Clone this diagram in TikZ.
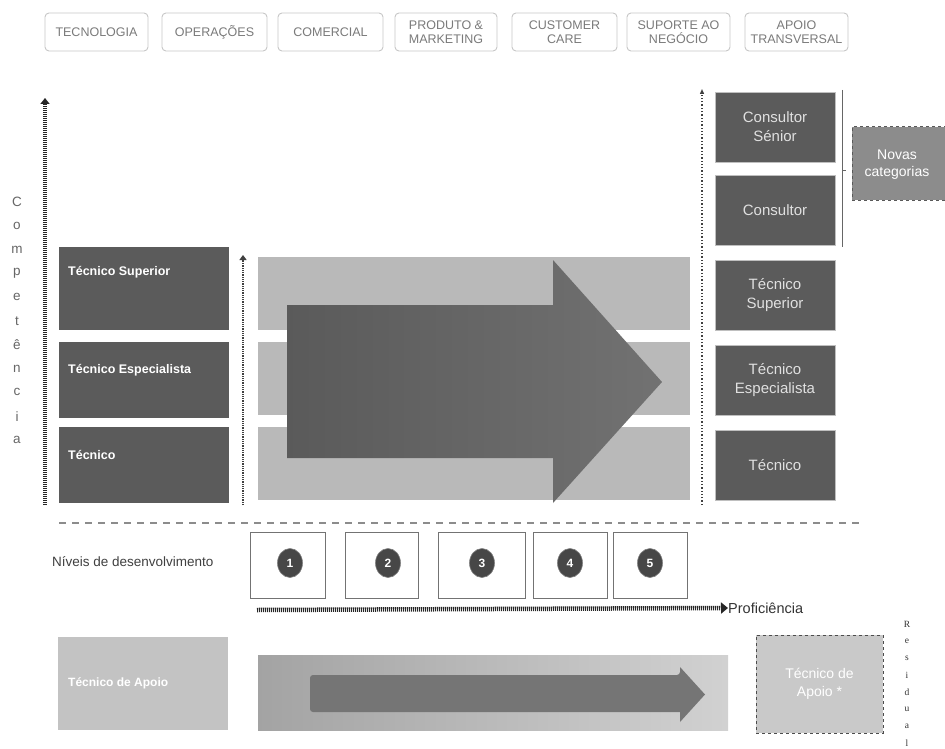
\documentclass[tikz,border=0pt]{standalone}
\usepackage{fontspec}
\setmainfont{Liberation Sans}
\newfontfamily\resfont{Liberation Serif}
\usetikzlibrary{arrows.meta,shapes.geometric}
\definecolor{darkbox}{HTML}{5B5B5B}
\definecolor{bandgray}{HTML}{B9B9B9}
\definecolor{arrowgray}{HTML}{626262}
\definecolor{lightbox}{HTML}{C3C3C3}
\definecolor{novas}{HTML}{8C8C8C}
\definecolor{toptext}{HTML}{7A7A7A}
\tikzset{
  topbox/.style={draw=black!22, line width=0.9pt, rounded corners=4pt, text=toptext,
    font=\fontsize{12.5}{14.5}\selectfont, align=center, inner sep=0pt, minimum height=38pt},
  leftbox/.style={fill=darkbox, draw=none, minimum width=170pt, inner sep=0pt},
  lefttext/.style={text=white, font=\fontsize{12.5}{15}\selectfont\bfseries, anchor=west, inner sep=0pt},
  band/.style={fill=bandgray, draw=none, minimum width=432pt, minimum height=73pt, inner sep=0pt},
  rightbox/.style={fill=darkbox, draw=black!25, line width=0.8pt, minimum width=120pt, minimum height=70pt,
    text=white!88!black, font=\fontsize{15}{19}\selectfont, align=center, inner sep=0pt},
  levelbox/.style={draw=black!55, line width=1pt, minimum height=66pt, inner sep=0pt},
  levelnum/.style={ellipse, fill=black!72, draw=black!50, line width=0.6pt, minimum width=25pt, minimum height=29pt,
    inner sep=0pt, text=white, font=\fontsize{12}{12}\selectfont\bfseries},
  hatchaxis/.style={draw=black!85, line width=3.5pt, dash pattern=on 1.2pt off 0.8pt,
    -{Triangle[length=6pt,width=9pt]}},
  thinaxis/.style={draw=black!75, line width=2.2pt, dash pattern=on 1pt off 0.8pt,
    -{Triangle[length=5pt,width=7pt]}},
  dotaxis/.style={draw=black!75, line width=1.3pt, dotted, -{Triangle[length=5pt,width=4pt]}},
  sepline/.style={draw=black!45, line width=1.3pt, dash pattern=on 7pt off 6pt},
  vletter/.style={text=black!60, font=\fontsize{13.5}{13.5}\selectfont, inner sep=0pt},
  rletter/.style={text=black!80, font=\resfont\fontsize{9.5}{9.5}\selectfont, inner sep=0pt},
}
\begin{document}
\begin{tikzpicture}[x=1pt,y=-1pt]
\useasboundingbox (0,0) rectangle (945,749);
\clip (0,0) rectangle (945,749);
\fill[white] (0,0) rectangle (945,749);

% top row
\node[topbox, minimum width=103pt] (tec) at (96.5,32) {TECNOLOGIA};
\node[topbox, minimum width=105pt] (ope) at (214.5,32) {OPERAÇÕES};
\node[topbox, minimum width=105pt] (com) at (330.5,32) {COMERCIAL};
\node[topbox, minimum width=102pt] (pro) at (446,32) {PRODUTO \&\\MARKETING};
\node[topbox, minimum width=105pt] (cus) at (564.5,32) {CUSTOMER\\CARE};
\node[topbox, minimum width=103pt] (sup) at (678.5,32) {SUPORTE AO\\NEGÓCIO};
\node[topbox, minimum width=103pt] (apo) at (796.5,32) {APOIO\\TRANSVERSAL};

% Competência axis
\coordinate (compB) at (45,505);
\coordinate (compT) at (45,98);
\draw[hatchaxis] (compB) -- (compT);
\foreach \l [count=\i from 0] in {C,o,m,p,e,t,ê,n,c,i,a}
  \node[vletter] (cl\i) at (17,{202+23.8*\i}) {\l};

% left boxes
\node[leftbox, minimum height=83pt] (lts) at (144,288.5) {};
\node[leftbox, minimum height=76pt] (lte) at (144,380) {};
\node[leftbox, minimum height=76pt] (lt) at (144,465) {};
\node[lefttext] (ltsT) at (68,272) {Técnico Superior};
\node[lefttext] (lteT) at (68,370) {Técnico Especialista};
\node[lefttext] (ltT) at (68,455) {Técnico};

% second axis
\coordinate (a2b) at (243,505);
\coordinate (a2t) at (243,255);
\draw[thinaxis] (a2b) -- (a2t);

% bands
\node[band] (b1) at (474,293.5) {};
\node[band] (b2) at (474,378.5) {};
\node[band] (b3) at (474,463.5) {};

% big arrow
\shade[left color=arrowgray!92!black, right color=arrowgray!90!white]
  (287,305) -- (553,305) -- (553,260) -- (662,382) -- (553,503) -- (553,458) -- (287,458) -- cycle;

% right dotted axis
\coordinate (rdb) at (702,505);
\coordinate (rdt) at (702,89);
\draw[dotaxis] (rdb) -- (rdt);

% right boxes
\node[rightbox] (rcs) at (775,127) {Consultor\\Sénior};
\node[rightbox] (rc) at (775,210) {Consultor};
\node[rightbox] (rts) at (775,295) {Técnico\\Superior};
\node[rightbox] (rte) at (775,380) {Técnico\\Especialista};
\node[rightbox] (rt) at (775,465) {Técnico};

% bracket and new categories
\coordinate (brT) at (842,90);
\coordinate (brB) at (842,247);
\coordinate (brM) at (842,170);
\coordinate (brMr) at (846,170);
\draw[black!60, line width=0.8pt] (brT) -- (brB);
\draw[black!60, line width=0.8pt] (brM) -- (brMr);
\node[fill=novas, draw=black!65, dashed, line width=1pt, minimum width=98pt, minimum height=73pt,
  inner sep=0pt] (nov) at (901,163.5) {};
\node[text=white, font=\fontsize{14}{17}\selectfont, align=center, inner sep=0pt] (novT) at (897,165) {Novas\\categorias};

% separator
\coordinate (sepL) at (59,523);
\coordinate (sepR) at (862,523);
\draw[sepline] (sepL) -- (sepR);

% levels
\node[anchor=west, inner sep=0pt, text=black!75, font=\fontsize{13.5}{14}\selectfont] (niv) at (52,562) {Níveis de desenvolvimento};
\node[levelbox, minimum width=75pt] (l1) at (287.5,565) {};
\node[levelbox, minimum width=73pt] (l2) at (381.5,565) {};
\node[levelbox, minimum width=87pt] (l3) at (481.5,565) {};
\node[levelbox, minimum width=74pt] (l4) at (570,565) {};
\node[levelbox, minimum width=74pt] (l5) at (650,565) {};
\node[levelnum] (n1) at (290,563) {1};
\node[levelnum] (n2) at (388,563) {2};
\node[levelnum] (n3) at (482,563) {3};
\node[levelnum] (n4) at (570,563) {4};
\node[levelnum] (n5) at (650,563) {5};

% proficiency axis
\node[anchor=west, inner sep=0pt, text=black!80, font=\fontsize{14.5}{15}\selectfont] (prof) at (728,608) {Proficiência};
\coordinate (profL) at (257,610);
\draw[hatchaxis, line width=4.5pt, -{Triangle[length=7pt,width=11pt]}] (profL) -- (prof.west);

% bottom
\node[fill=lightbox, minimum width=170pt, minimum height=93pt, inner sep=0pt] (tda) at (143,683.5) {};
\node[lefttext, font=\fontsize{12}{14}\selectfont\bfseries] (tdaT) at (68,683) {Técnico de Apoio};
\shade[left color=black!36, right color=black!18] (258,655) rectangle (728,730);
\node[minimum width=470pt, minimum height=75pt, inner sep=0pt] (bb) at (493,692.5) {};
\fill[black!54, rounded corners=3pt] (310,675) -- (680,675) [sharp corners] -- (680,667) -- (705,694.5) -- (680,722) -- (680,712) [rounded corners=3pt] -- (310,712) -- cycle;
\node[fill=black!21, draw=black!70, dashed, line width=1pt, minimum width=127pt, minimum height=98pt,
  inner sep=0pt, text=white, font=\fontsize{14}{18}\selectfont, align=center] (tda2) at (819.5,684) {Técnico de\\Apoio *};

% Residual
\foreach \l [count=\i from 0] in {R,e,s,i,d,u,a,l}
  \node[rletter] (rl\i) at (907,{624+17*\i}) {\l};
\end{tikzpicture}
\end{document}
